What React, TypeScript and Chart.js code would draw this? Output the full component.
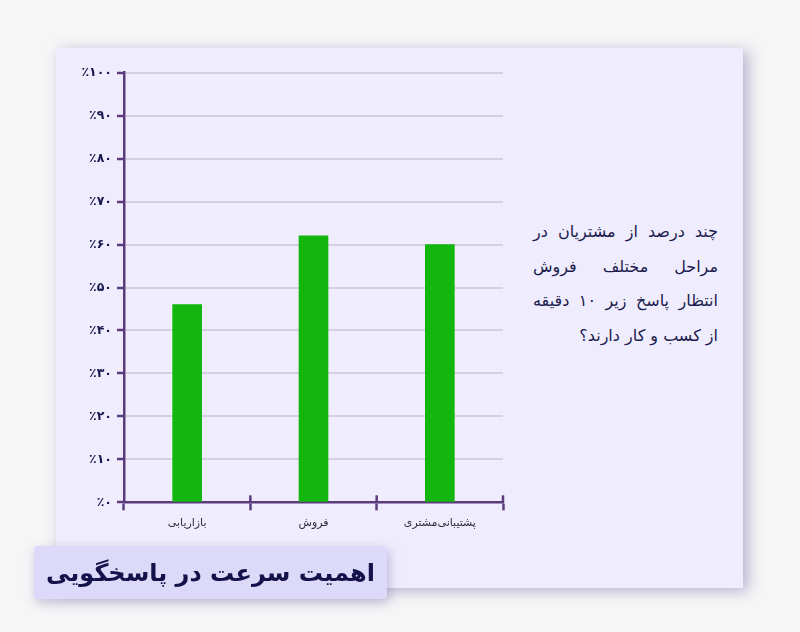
import React, { useEffect, useRef } from "react";
import { Chart, registerables } from "chart.js";

Chart.register(...registerables);

const categories: string[] = ["بازاریابی", "فروش", "پشتیبانی‌مشتری"];
const values: number[] = [46, 62, 60];
const yTicks: number[] = [0, 10, 20, 30, 40, 50, 60, 70, 80, 90, 100];
const persianDigits = ["۰", "۱", "۲", "۳", "۴", "۵", "۶", "۷", "۸", "۹"];
const toFa = (n: number) => String(n).replace(/\d/g, (d) => persianDigits[Number(d)]);

const sideLines: string[] = [
  "چند درصد از مشتریان در",
  "مراحل مختلف فروش",
  "انتظار پاسخ زیر ۱۰ دقیقه",
  "از کسب و کار دارند؟",
];
const titleText = "اهمیت سرعت در پاسخگویی";

const AXIS = "#5b3b7c";
const FONT = "'DejaVu Sans', 'Noto Sans', sans-serif";

const crossTicks = {
  id: "crossTicks",
  afterDraw(chart: any) {
    const x = chart.scales.x;
    const ctx = chart.ctx;
    const n = x.ticks.length;
    ctx.save();
    ctx.strokeStyle = AXIS;
    ctx.lineWidth = 2.5;
    for (let i = 1; i <= n; i++) {
      const px = x.left + (i * x.width) / n;
      ctx.beginPath();
      ctx.moveTo(px, x.top - 7);
      ctx.lineTo(px, x.top);
      ctx.stroke();
    }
    ctx.restore();
  },
};

export default function App() {
  const ref = useRef<HTMLCanvasElement | null>(null);
  useEffect(() => {
    if (!ref.current) return;
    const chart = new Chart(ref.current, {
      type: "bar",
      data: {
        labels: categories,
        datasets: [
          {
            data: values,
            backgroundColor: "#12b60c",
            barThickness: 29,
          },
        ],
      },
      plugins: [crossTicks],
      options: {
        animation: false,
        responsive: false,
        layout: { padding: { top: 12.7, right: 7, left: 0, bottom: 0 } },
        plugins: { legend: { display: false }, tooltip: { enabled: false } },
        scales: {
          x: {
            afterFit: (s: any) => {
              s.height = 37.7;
            },
            grid: {
              offset: true,
              drawOnChartArea: false,
              drawTicks: true,
              tickLength: 8,
              tickWidth: 2.5,
              tickColor: AXIS,
            },
            border: { color: AXIS, width: 2.5 },
            ticks: {
              color: "#2e2e3c",
              padding: 6,
              font: { family: FONT, size: 11 },
            },
          },
          y: {
            min: 0,
            max: 100,
            afterFit: (s: any) => {
              s.width = 64;
            },
            afterBuildTicks: (s: any) => {
              s.ticks = yTicks.map((v) => ({ value: v }));
            },
            grid: {
              color: "#d5cfe2",
              lineWidth: 2,
              drawTicks: true,
              tickLength: 7,
              tickWidth: 2.5,
              tickColor: AXIS,
            },
            border: { color: AXIS, width: 2.5 },
            ticks: {
              color: "#1b1a4f",
              padding: 5,
              font: { family: FONT, size: 12.5, weight: "bold" },
              callback: (v: any) => "٪" + toFa(Number(v)),
            },
          },
        },
      },
    });
    return () => chart.destroy();
  }, []);

  return (
    <div
      style={{
        position: "absolute",
        left: 0,
        top: 0,
        width: 800,
        height: 632,
        background: "#f6f6f7",
        overflow: "hidden",
      }}
    >
      <div
        style={{
          position: "absolute",
          left: 56,
          top: 48,
          width: 687,
          height: 540,
          background: "#efedfd",
          boxShadow: "5px 3px 14px rgba(100,80,150,0.42)",
        }}
      />
      <canvas
        ref={ref}
        width={450}
        height={480}
        style={{ position: "absolute", left: 60, top: 60, width: 450, height: 480 }}
      />
      <div
        dir="rtl"
        style={{
          position: "absolute",
          left: 533,
          top: 215,
          width: 185,
          fontFamily: FONT,
          fontSize: 16,
          color: "#1c1b4d",
          lineHeight: "34.5px",
        }}
      >
        {sideLines.map((l, i) => (
          <div
            key={i}
            style={{
              textAlign: i < 3 ? "justify" : "right",
              textAlignLast: i < 3 ? "justify" : "right",
            }}
          >
            {l}
          </div>
        ))}
      </div>
      <div
        dir="rtl"
        style={{
          position: "absolute",
          left: 34,
          top: 546,
          width: 353,
          height: 53,
          background: "#dcdaf8",
          borderRadius: 4,
          boxShadow: "2px 4px 12px rgba(100,80,150,0.35)",
          display: "flex",
          alignItems: "center",
          justifyContent: "center",
          fontFamily: FONT,
          fontWeight: "bold",
          fontSize: 24,
          whiteSpace: "nowrap",
          color: "#14124a",
        }}
      >
        {titleText}
      </div>
    </div>
  );
}
